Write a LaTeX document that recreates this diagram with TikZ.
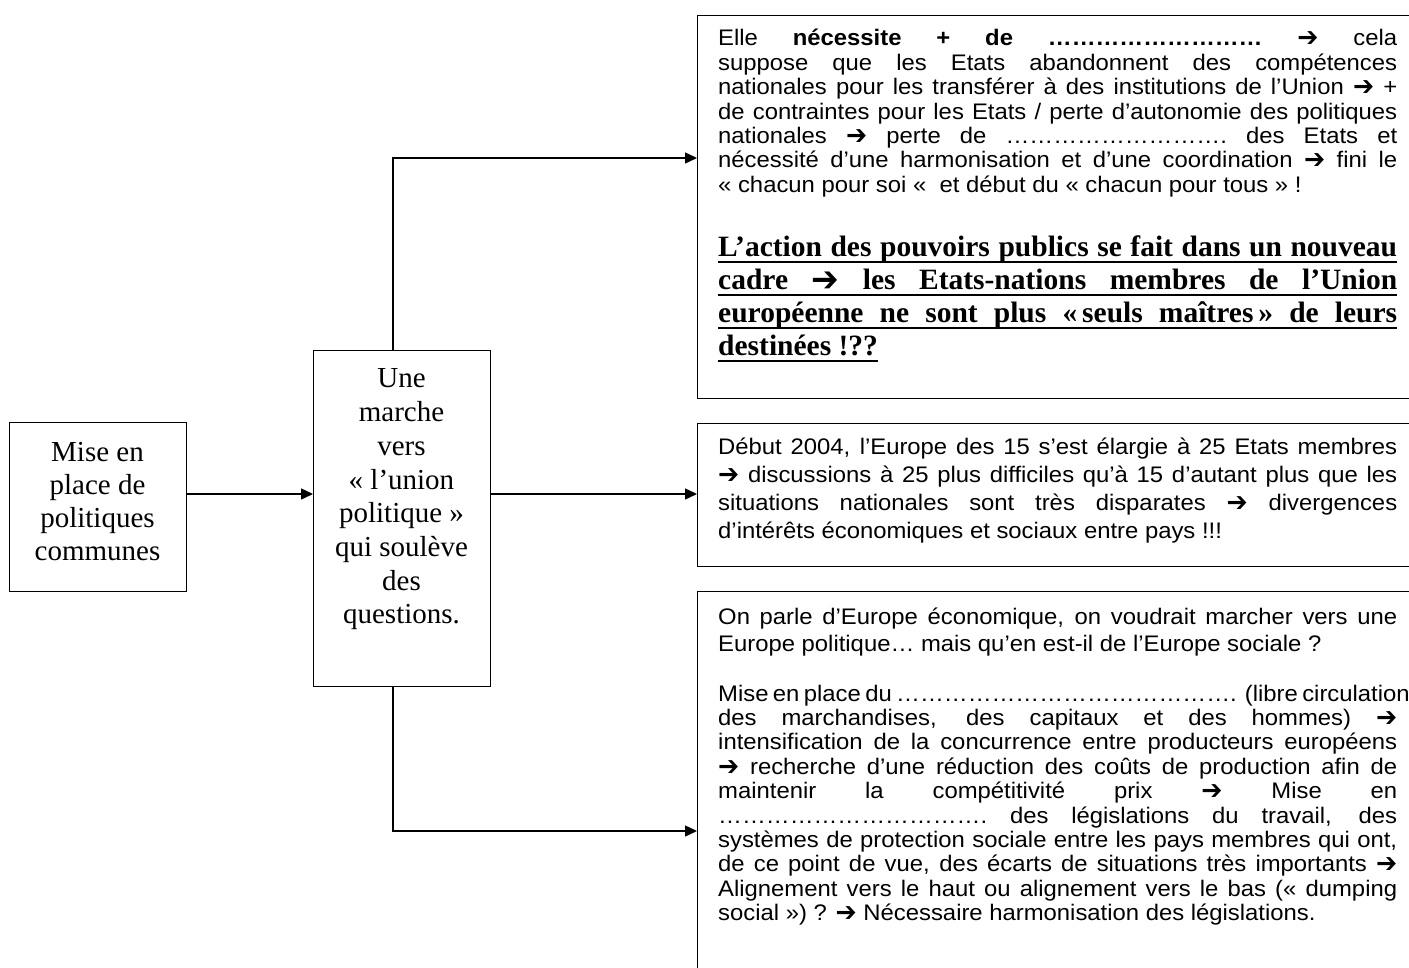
\documentclass[tikz,border=0pt]{standalone}
\usepackage{fontspec}
\usepackage{graphicx}
\setmainfont{Liberation Serif}
\newfontfamily\arialf[FakeStretch=1.06]{Liberation Sans}
\newfontfamily\dvf{DejaVu Sans}
\usetikzlibrary{arrows.meta}
\newcommand\rarr{\raisebox{-0.04em}{\scalebox{1.12}[1.2]{\dvf ➔}}}
\newcommand\jline[1]{\noindent\makebox[\linewidth][s]{#1}\par}
\newcommand\lline[1]{\noindent #1\par}
\newcommand\ujline[1]{\noindent\makebox[\linewidth][s]{#1}\llap{\rule[-6pt]{\linewidth}{1.6pt}}\par}
\newsavebox\ulbx
\tikzset{
  box/.style={draw=black, line width=1.4pt, rectangle, inner sep=0pt, fill=white},
  conn/.style={draw=black, line width=1.4pt, -{Triangle[length=12pt,width=11pt]}},
  txt/.style={anchor=base west, inner sep=0pt},
}
\begin{document}
\begin{tikzpicture}[x=1pt,y=-1pt]
\useasboundingbox (0,0) rectangle (1409,968);
\clip (0,0) rectangle (1409,968);
\fill[white] (0,0) rectangle (1409,968);
% boxes
\node[box, anchor=north west, minimum width=177pt, minimum height=169pt] (A) at (9,422) {};
\node[box, anchor=north west, minimum width=177pt, minimum height=336pt] (B) at (313,350) {};
\node[box, anchor=north west, minimum width=715pt, minimum height=383pt] (C1) at (697,15) {};
\node[box, anchor=north west, minimum width=715pt, minimum height=143pt] (C2) at (697,423) {};
\node[box, anchor=north west, minimum width=715pt, minimum height=400pt] (C3) at (697,591) {};
% texts of A and B
\node[anchor=base, inner sep=0pt] (At) at (97.5,461) {\parbox[t]{170pt}{\centering\fontsize{29}{33.3}\selectfont Mise en\\place de\\politiques\\communes}};
\node[anchor=base, inner sep=0pt] (Bt) at (401.5,388) {\parbox[t]{170pt}{\centering\fontsize{29}{33.7}\selectfont Une\\marche\\vers\\« l’union\\politique »\\qui soulève\\des\\questions.}};
% connectors
\coordinate (k1) at (393,158);
\coordinate (k2) at (393,831);
\coordinate (m1) at (0,494);
\draw[conn] (B.north -| k1) -- (k1) -- (k1 -| C1.west);
\draw[conn] (B.south -| k2) -- (k2) -- (k2 -| C3.west);
\draw[conn] (A.east |- m1) -- (B.west |- m1);
\draw[conn] (B.east |- m1) -- (C2.west |- m1);
% box 1 text
\node[txt] (T1) at (718,46) {\parbox[t]{679pt}{\arialf\fontsize{22.5}{24.4}\selectfont
\jline{Elle \textbf{nécessite + de ………………………} \rarr{} cela}
\jline{suppose que les Etats abandonnent des compétences}
\jline{nationales pour les transférer à des institutions de l’Union \rarr{} +}
\jline{de contraintes pour les Etats / perte d’autonomie des politiques}
\jline{nationales \rarr{} perte de ……………………….\ des Etats et}
\jline{nécessité d’une harmonisation et d’une coordination \rarr{} fini le}
\lline{« chacun pour soi «\ \ et début du « chacun pour tous » !}}};
\node[txt] (T1b) at (718,257) {\parbox[t]{679pt}{\bfseries\fontsize{29.5}{33}\selectfont
\ujline{L’action des pouvoirs publics se fait dans un nouveau}
\ujline{cadre \rarr{} les Etats-nations membres de l’Union}
\ujline{européenne ne sont plus «\,seuls maîtres\,» de leurs}
\noindent\sbox\ulbx{destinées !??}\usebox\ulbx\llap{\rule[-6pt]{\wd\ulbx}{1.6pt}}\par}};
% box 2 text
\node[txt] (T2) at (718,454) {\parbox[t]{679pt}{\arialf\fontsize{22.5}{28.3}\selectfont
\jline{Début 2004, l’Europe des 15 s’est élargie à 25 Etats membres}
\jline{\rarr{} discussions à 25 plus difficiles qu’à 15 d’autant plus que les}
\jline{situations nationales sont très disparates \rarr{} divergences}
\lline{d’intérêts économiques et sociaux entre pays !!!}}};
% box 3 text
\node[txt] (T3a) at (718,624) {\parbox[t]{679pt}{\arialf\fontsize{22.5}{27.5}\selectfont
\jline{On parle d’Europe économique, on voudrait marcher vers une}
\lline{Europe politique… mais qu’en est-il de l’Europe sociale ?}}};
\node[txt] (T3b) at (718,701) {\parbox[t]{679pt}{\arialf\fontsize{22.5}{24.4}\selectfont
\jline{Mise en place du ……………………………………. (libre circulation}
\jline{des marchandises, des capitaux et des hommes) \rarr}
\jline{intensification de la concurrence entre producteurs européens}
\jline{\rarr{} recherche d’une réduction des coûts de production afin de}
\jline{maintenir la compétitivité prix \rarr{} Mise en}
\jline{…………………………….\ des législations du travail, des}
\jline{systèmes de protection sociale entre les pays membres qui ont,}
\jline{de ce point de vue, des écarts de situations très importants \rarr}
\jline{Alignement vers le haut ou alignement vers le bas (« dumping}
\lline{social ») ? \rarr{} Nécessaire harmonisation des législations.}}};
\end{tikzpicture}
\end{document}
